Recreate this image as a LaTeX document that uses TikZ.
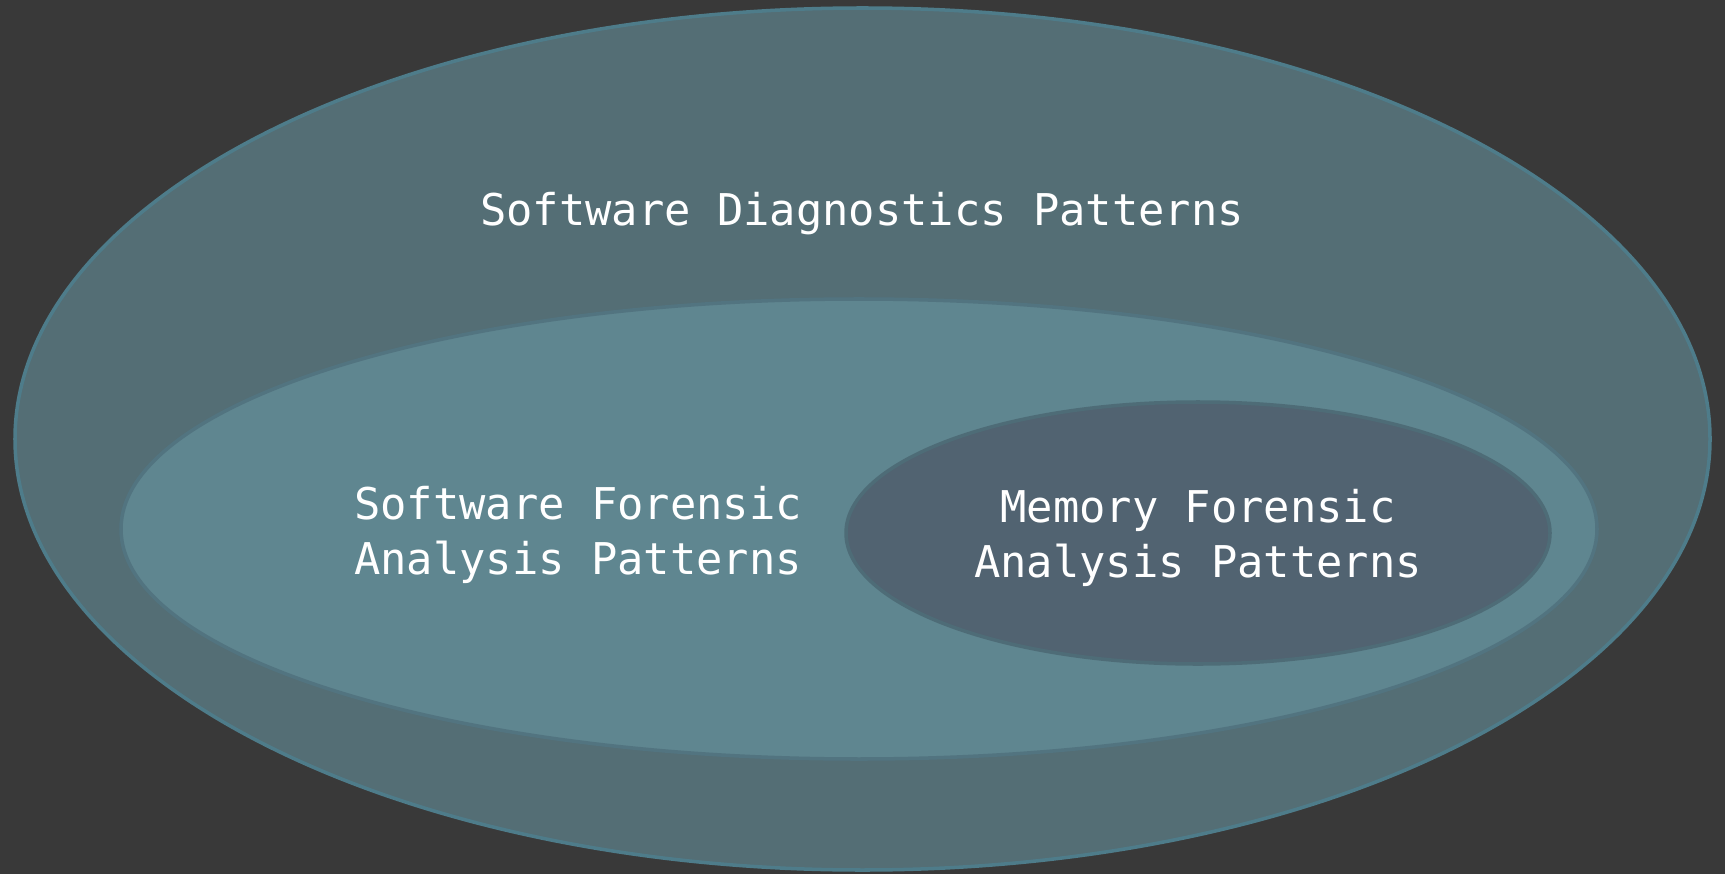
\documentclass[tikz,border=0pt]{standalone}
\usepackage{fontspec}
\setmonofont{DejaVu Sans Mono}
\usetikzlibrary{calc}
\definecolor{bgdark}{RGB}{57,57,57}
\definecolor{outerfill}{RGB}{84,110,117}
\definecolor{midfill}{RGB}{95,134,144}
\definecolor{innerfill}{RGB}{81,99,113}
\definecolor{rimcol}{RGB}{78,124,138}
\definecolor{midrim}{RGB}{82,116,128}
\definecolor{innerrim}{RGB}{78,108,119}
\tikzset{
  label/.style={text=white,font=\fontsize{12.45}{15.8}\selectfont\ttfamily,align=center,inner sep=0pt}
}

\begin{document}
\begin{tikzpicture} [x=0.1mm,y=-0.1mm]

\fill[bgdark] (0,0) rectangle (1725,874);
\useasboundingbox (0,0) rectangle (1725,874);

\coordinate (O) at (862.5,439);
\coordinate (M) at (859,529);
\coordinate (I) at (1198,533);

\draw[rimcol,fill=outerfill,line width=1pt] (O) ellipse [x radius=847.5,y radius=431];
\draw[midrim,fill=midfill,line width=1pt] (M) ellipse [x radius=738,y radius=230];
\draw[innerrim,fill=innerfill,line width=1pt] (I) ellipse [x radius=352,y radius=131];

\node[label] (diag) at (862,214) {Software Diagnostics Patterns};
\node[label] (soft) at (578,535) {Software Forensic\\Analysis Patterns};
\node[label] (mem) at (1198,538) {Memory Forensic\\Analysis Patterns};

\end{tikzpicture}
\end{document}
